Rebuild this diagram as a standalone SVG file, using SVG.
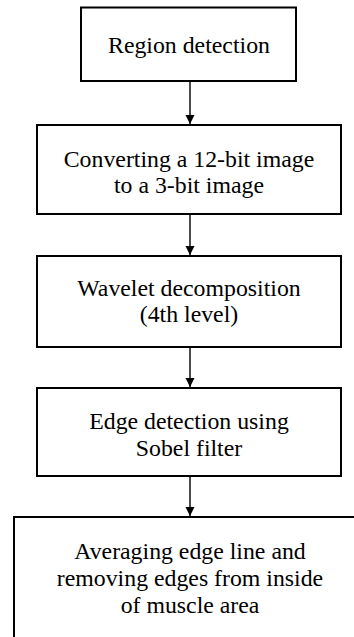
<svg xmlns="http://www.w3.org/2000/svg" width="354" height="637" viewBox="0 0 354 637">
<defs>
<style>
.box{fill:#fff;stroke:#000;stroke-width:2}
.lbl{font-family:"Liberation Serif","Times New Roman",serif;font-size:23.8px;fill:#000;text-anchor:middle}
.conn{stroke:#000;stroke-width:1.4;fill:none}
</style>
<marker id="ah" markerWidth="10" markerHeight="10" refX="9" refY="4.5" orient="auto" markerUnits="userSpaceOnUse">
<path d="M0,0 L9,4.5 L0,9 z" fill="#000"/>
</marker>
</defs>
<rect width="354" height="637" fill="#fff"/>
<g id="n1">
<rect class="box" x="81" y="7.5" width="215" height="73.5"/>
<text class="lbl" x="189" y="53">Region detection</text>
</g>
<g id="n2">
<rect class="box" x="37" y="125" width="304" height="89"/>
<text class="lbl" x="189" y="167">Converting a 12-bit image</text>
<text class="lbl" x="189" y="193">to a 3-bit image</text>
</g>
<g id="n3">
<rect class="box" x="37" y="256" width="304" height="91"/>
<text class="lbl" x="189" y="296">Wavelet decomposition</text>
<text class="lbl" x="189" y="322">(4th level)</text>
</g>
<g id="n4">
<rect class="box" x="37" y="388" width="304" height="88"/>
<text class="lbl" x="189" y="429">Edge detection using</text>
<text class="lbl" x="189" y="456">Sobel filter</text>
</g>
<g id="n5">
<rect class="box" x="14" y="517" width="356" height="130"/>
<text class="lbl" x="190" y="559">Averaging edge line and</text>
<text class="lbl" x="190" y="586">removing edges from inside</text>
<text class="lbl" x="190" y="613">of muscle area</text>
</g>
<g id="connectors">
<line class="conn" x1="190" y1="81" x2="190" y2="124" marker-end="url(#ah)"/>
<line class="conn" x1="190" y1="214" x2="190" y2="255" marker-end="url(#ah)"/>
<line class="conn" x1="190" y1="347" x2="190" y2="387" marker-end="url(#ah)"/>
<line class="conn" x1="190" y1="476" x2="190" y2="516" marker-end="url(#ah)"/>
</g>
</svg>
